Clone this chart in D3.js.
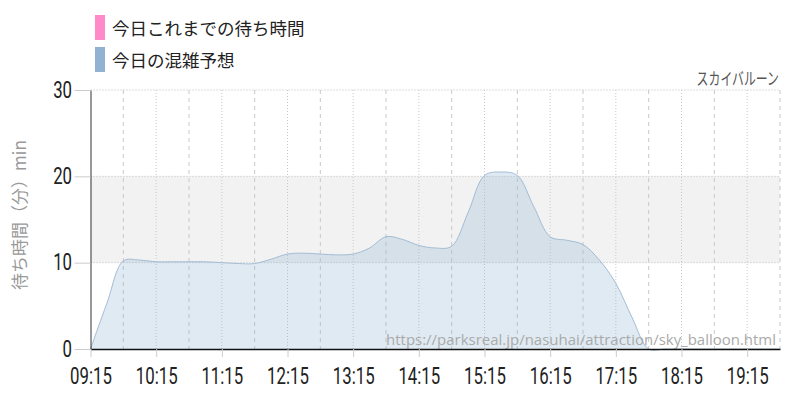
<!DOCTYPE html>
<html><head><meta charset="utf-8">
<script src="https://cdn.jsdelivr.net/npm/d3@7"></script>
<style>body{margin:0;background:#fff} svg{display:block}</style>
</head><body><svg id="c" width="800" height="400"></svg>
<script>
const times = ["09:15","09:30","09:45","10:00","10:15","10:30","10:45","11:00","11:15","11:30","11:45",
  "12:00","12:15","12:30","12:45","13:00","13:15","13:30","13:45","14:00","14:15","14:30","14:45",
  "15:00","15:15","15:30","15:45","16:00","16:15","16:30","16:45","17:00","17:15","17:30","17:45",
  "18:00","18:15","18:30","18:45","19:00","19:15","19:30","19:45"];
const forecastValues = [0,5.3,10.2,10.3,10.1,10.1,10.1,10.1,10.0,9.9,9.9,
  10.4,11.0,11.1,11.0,10.9,11.0,11.7,13.0,12.7,12.0,11.7,11.9,
  15.8,20.1,20.5,20.1,16.5,13.0,12.6,12.1,10.3,7.6,3.6,0,
  0,0,0,0,0,0,0,0];
const yTicks = [0,10,20,30];
const xTickLabels = ["09:15","10:15","11:15","12:15","13:15","14:15","15:15","16:15","17:15","18:15","19:15"];
const gridTimes = ["09:45","10:15","10:45","11:15","11:45","12:15","12:45","13:15","13:45","14:15","14:45",
  "15:15","15:45","16:15","16:45","17:15","17:45","18:15","18:45","19:15","19:45"];
const legendLabels = ["今日これまでの待ち時間","今日の混雑予想"];
const legendColors = ["#ff8ac9","#91b2d0"];
const titleText = "スカイバルーン";
const yTitle = "待ち時間（分）min";
const sourceUrl = "https://parksreal.jp/nasuhai/attraction/sky_balloon.html";
const bandRange = [10,20];

const parse = d3.timeParse("%H:%M");
const m = {left:90.5, right:780, top:90, bottom:349};
const x = d3.scaleTime().domain([parse("09:15"), parse("19:45")]).range([m.left, m.right]);
const y = d3.scaleLinear().domain([0,30]).range([m.bottom, m.top]);
const data = times.map((t,i)=>({t:parse(t), v:forecastValues[i]}));

const svg = d3.select("#c");
const cjk = '"Noto Sans CJK JP", "Noto Sans", sans-serif';

// band
svg.append("rect").attr("x", m.left).attr("width", m.right - m.left)
  .attr("y", y(bandRange[1])).attr("height", y(bandRange[0]) - y(bandRange[1]))
  .attr("fill", "#f2f2f2");

// horizontal grid
svg.append("g").selectAll("line").data(yTicks.filter(d=>d>0)).join("line")
  .attr("x1", m.left).attr("x2", m.right).attr("y1", d=>y(d)).attr("y2", d=>y(d))
  .attr("stroke", "#bbb").attr("stroke-dasharray", "1,2");

// vertical grid
svg.append("g").selectAll("line").data(gridTimes).join("line")
  .attr("x1", d=>x(parse(d))).attr("x2", d=>x(parse(d)))
  .attr("y1", m.top).attr("y2", m.bottom)
  .attr("stroke", "#c8c8c8")
  .attr("stroke-dasharray", d => xTickLabels.includes(d) ? "1,2" : "4,4");

// area
const curve = d3.curveCatmullRom.alpha(0.5);
svg.append("path").datum(data)
  .attr("d", d3.area().curve(curve).x(d=>x(d.t)).y0(y(0)).y1(d=>y(d.v)))
  .attr("fill", "rgba(145,178,208,0.28)");
svg.append("path").datum(data)
  .attr("d", d3.line().curve(curve).x(d=>x(d.t)).y(d=>y(d.v)))
  .attr("fill", "none").attr("stroke", "#a3bcd5").attr("stroke-width", 1);

// source url (font size fitted to the reference width)
const url = svg.append("text").attr("x", 776).attr("y", 345).attr("text-anchor", "end")
  .attr("font-family", '"Open Sans", sans-serif').attr("font-size", 16)
  .attr("fill", "#aaa").text(sourceUrl);
const w0 = url.node().getComputedTextLength();
if (w0 > 0) url.attr("font-size", Math.min(18, 16 * 390 / w0));

// y axis
const sx = 0.7;
const yAxis = svg.append("g").attr("transform", `translate(${m.left},0)`)
  .call(d3.axisLeft(y).tickValues(yTicks).tickSize(16).tickSizeOuter(0));
yAxis.select(".domain").attr("stroke", "#333");
yAxis.selectAll(".tick line").attr("stroke", "#ccc");
yAxis.selectAll(".tick text").attr("font-family", "Roboto, sans-serif").attr("font-size", 24)
  .attr("fill", "#222").attr("x", -18.5/sx).attr("dy", "0.3em")
  .attr("transform", `scale(${sx},1)`);

// x axis
const xAxis = svg.append("g").attr("transform", `translate(0,${m.bottom})`)
  .call(d3.axisBottom(x).tickValues(xTickLabels.map(parse)).tickFormat(d3.timeFormat("%H:%M"))
    .tickSize(8).tickSizeOuter(0));
xAxis.select(".domain").attr("stroke", "#111").attr("stroke-width", 1.6);
xAxis.selectAll(".tick line").attr("stroke", "#ccc");
xAxis.selectAll(".tick text").attr("font-family", "Roboto, sans-serif").attr("font-size", 24)
  .attr("fill", "#222").attr("y", 35).attr("dy", 0)
  .attr("transform", `scale(${sx},1)`);

// title
svg.append("text").attr("transform", "translate(779,85) scale(0.7,1)")
  .attr("text-anchor", "end").attr("font-family", cjk).attr("font-size", 17)
  .attr("fill", "#555").text(titleText);

// y title
svg.append("text").attr("transform", "translate(26,215) rotate(-90)")
  .attr("text-anchor", "middle").attr("font-family", cjk).attr("font-size", 17)
  .attr("fill", "#999").text(yTitle);

// legend
const lg = svg.append("g").selectAll("g").data(legendLabels).join("g")
  .attr("transform", (d,i)=>`translate(95,${15 + i*32})`);
lg.append("rect").attr("width", 10).attr("height", 25).attr("fill", (d,i)=>legendColors[i]);
lg.append("text").attr("x", 17).attr("y", 20).attr("font-family", cjk).attr("font-size", 17.5)
  .attr("fill", "#222").text(d=>d);
</script></body></html>
